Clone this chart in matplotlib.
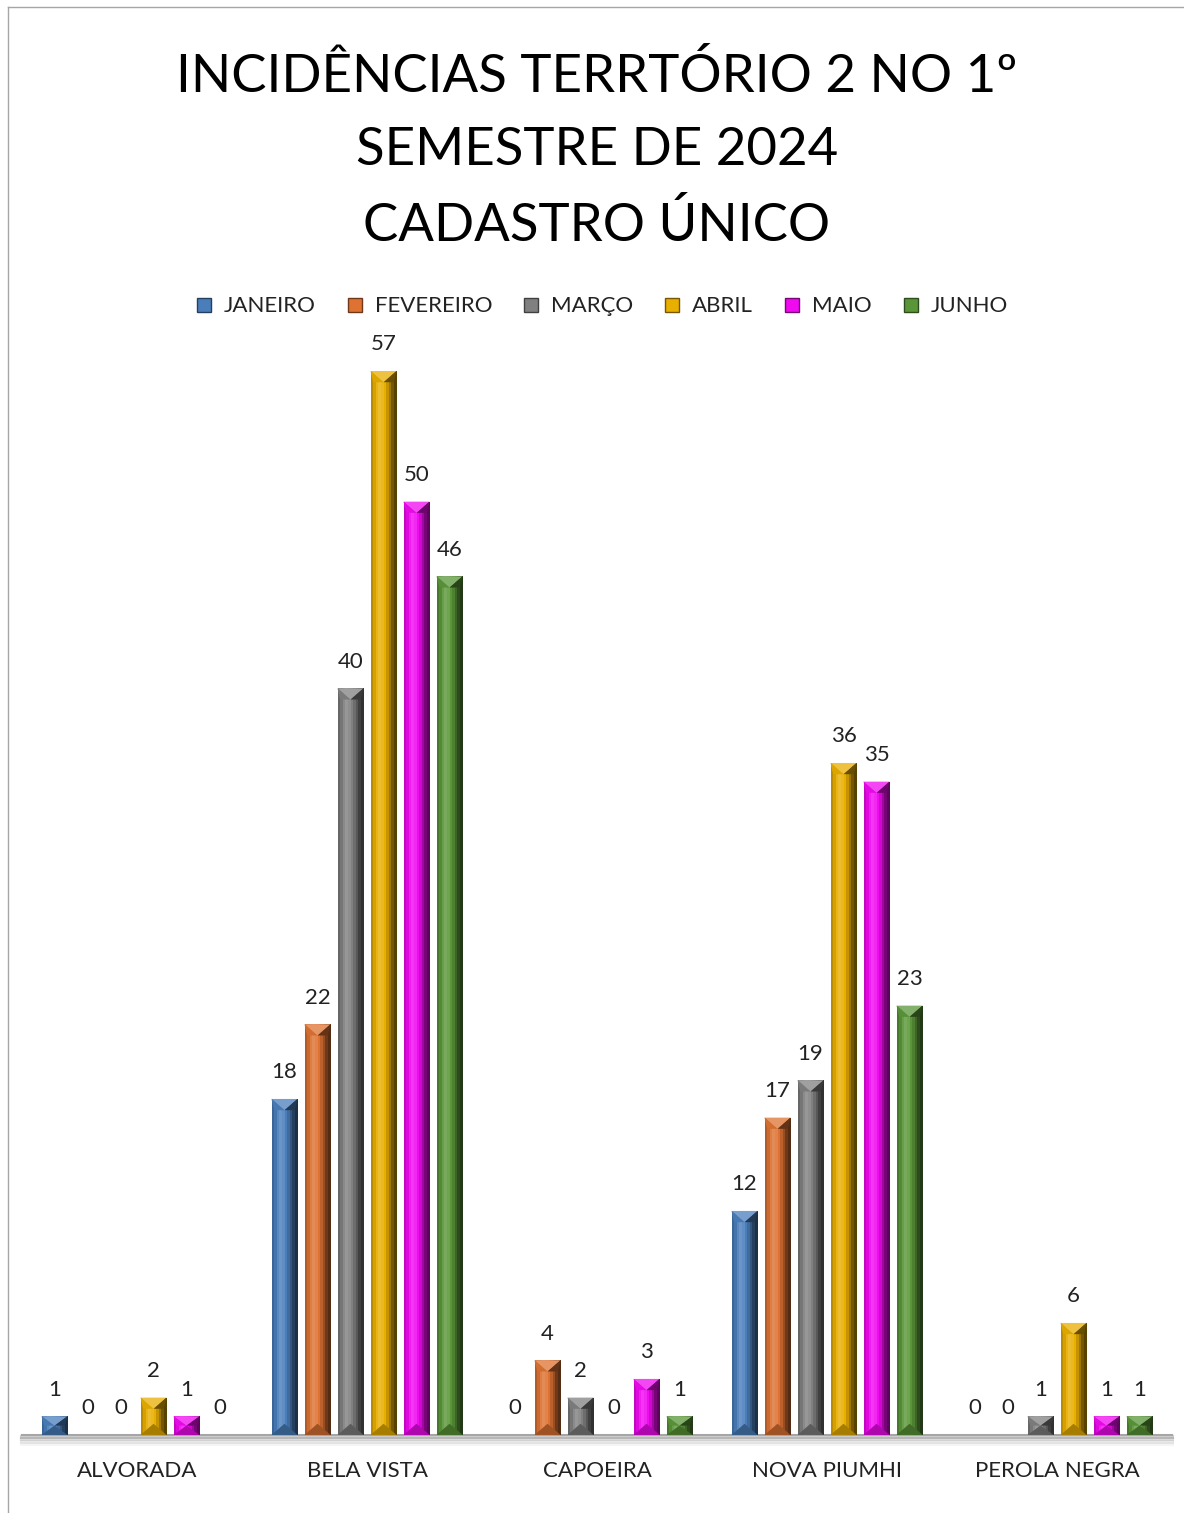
import numpy as np
import matplotlib
matplotlib.use("Agg")
import matplotlib.pyplot as plt
from matplotlib.patches import Polygon, Rectangle
from matplotlib.lines import Line2D
import matplotlib.colors as mcolors

plt.rcParams['font.family'] = ['Lato', 'DejaVu Sans']

# data
bairros = ["ALVORADA", "BELA VISTA", "CAPOEIRA", "NOVA PIUMHI", "PEROLA NEGRA"]
meses = ["JANEIRO", "FEVEREIRO", "MARÇO", "ABRIL", "MAIO", "JUNHO"]
janeiro = [1, 18, 0, 12, 0]
fevereiro = [0, 22, 4, 17, 0]
marco = [0, 40, 2, 19, 1]
abril = [2, 57, 0, 36, 6]
maio = [1, 50, 3, 35, 1]
junho = [0, 46, 1, 23, 1]
series = [janeiro, fevereiro, marco, abril, maio, junho]
cores = ["#4a7ebb", "#dd7232", "#808080", "#e8ae00", "#f00af0", "#5a9638"]

titulo = "INCIDÊNCIAS TERRTÓRIO 2 NO 1º\nSEMESTRE DE 2024\nCADASTRO ÚNICO"


def shade(c, f):
    r, g, b = mcolors.to_rgb(c)
    if f >= 1:
        k = f - 1
        return (r + (1 - r) * k, g + (1 - g) * k, b + (1 - b) * k)
    return (r * f, g * f, b * f)


# shading across a bar (cylinder-ish look)
perfil = [0.8, 0.92, 1.08, 1.18, 1.12, 1.0, 0.85, 0.68, 0.5, 0.38]

fig = plt.figure(figsize=(11.84, 15.13), dpi=100)
ax = fig.add_axes([0.0186, 0.0516, 0.9713, 0.7402])

x = np.arange(len(bairros))
step = 0.1435
larg = 0.113
for i, (vals, cor) in enumerate(zip(series, cores)):
    pos = x + (i - 2.5) * step
    bars = ax.bar(pos, vals, width=larg, color=cor, label=meses[i], zorder=2)
    for p in bars:
        h = p.get_height()
        if h <= 0:
            continue
        x0 = p.get_x()
        w = p.get_width()
        x1 = x0 + w
        xc = x0 + w / 2
        by = min(0.6, h / 2)
        sw = w / len(perfil)
        for k, f in enumerate(perfil):
            ax.add_patch(Rectangle((x0 + k * sw, 0), sw * 1.02, h, color=shade(cor, f),
                                   lw=0, zorder=3))
        # light V at the top, darker wedge at the base
        ax.add_patch(Polygon([(x0, h), (x1, h), (xc, h - by)], closed=True,
                             color=shade(cor, 1.25), lw=0, zorder=4))
        ax.add_patch(Polygon([(x0, h), (xc, h - by), (x0 + w * 0.1, h - by)], closed=True,
                             color=shade(cor, 0.95), lw=0, zorder=4))
        ax.add_patch(Polygon([(x1, h), (xc, h - by), (x1 - w * 0.1, h - by)], closed=True,
                             color=shade(cor, 0.45), lw=0, zorder=4))
        ax.add_patch(Polygon([(x0, 0), (x1, 0), (xc, by)], closed=True,
                             color=shade(cor, 0.72), lw=0, zorder=4))
    ax.bar_label(bars, labels=[str(v) for v in vals], padding=12, fontsize=16, color="#222222")

ax.set_xlim(-0.5, len(bairros) - 0.5)
ax.set_ylim(0, 60)
ax.set_yticks([])
ax.set_xticks(x)
ax.set_xticklabels(bairros, fontsize=16, color="#222222")
ax.tick_params(axis="x", length=0, pad=19)
for s in ["top", "left", "right"]:
    ax.spines[s].set_visible(False)
ax.spines["bottom"].set_color("#a6a6a6")
ax.spines["bottom"].set_linewidth(1.5)

# soft shadow under the plot area
for k, a in enumerate([0.18, 0.12, 0.07, 0.04]):
    ax.axhline(-0.12 - k * 0.12, color="black", alpha=a, lw=3, clip_on=False, zorder=0)

leg = fig.legend(handles=[Line2D([], [], marker="s", ls="", markersize=10,
                                 markerfacecolor=c, markeredgecolor=shade(c, 0.5))
                          for c in cores],
                 labels=meses, loc="center", bbox_to_anchor=(0.508, 0.7975), ncol=6,
                 frameon=False, fontsize=16, handlelength=0.8, handletextpad=0.5,
                 columnspacing=1.35)
for t in leg.get_texts():
    t.set_color("#222222")

fig.text(0.504, 0.9004, titulo, ha="center", va="center", fontsize=38,
         linespacing=1.68, color="black")

# border of the chart area
fig.add_artist(Line2D([0.0068, 0.0068], [0.0, 0.9954], color="#a6a6a6", lw=1))
fig.add_artist(Line2D([0.0068, 1.0], [0.9954, 0.9954], color="#a6a6a6", lw=1))

fig.savefig("out.png", dpi=100)
